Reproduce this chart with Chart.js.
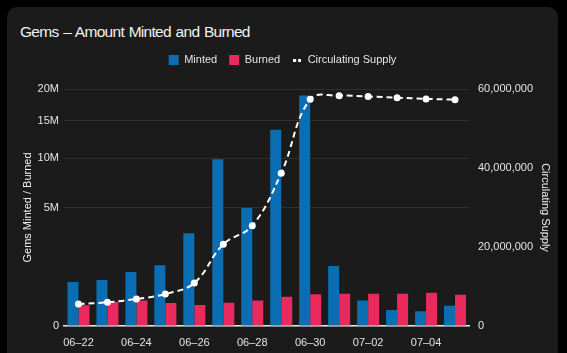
<!DOCTYPE html>
<html><head><meta charset="utf-8">
<script src="https://cdn.jsdelivr.net/npm/chart.js@4.4.1/dist/chart.umd.min.js"></script>
<style>
html,body{margin:0;padding:0;background:#000;width:567px;height:353px;overflow:hidden;}
#card{position:absolute;left:7px;top:7px;width:551px;height:370px;background:#1b1b1b;border-radius:10px;}
#title{position:absolute;left:20px;top:22.5px;font:15.5px "Liberation Sans",Arial,sans-serif;line-height:18px;letter-spacing:-0.7px;word-spacing:1px;color:#f2f2f2;white-space:nowrap;}
#wrap{position:absolute;left:0;top:0;width:567px;height:353px;}
</style></head><body>
<div id="card"></div>
<div id="title">Gems – Amount Minted and Burned</div>
<div id="wrap"><canvas id="c" width="567" height="353"></canvas></div>
<script>
const categories = ['06–22','06–23','06–24','06–25','06–26','06–27','06–28','06–29','06–30','07–01','07–02','07–03','07–04','07–05'];
const minted = [690000, 750000, 1040000, 1310000, 3060000, 9900000, 4950000, 13700000, 18900000, 1280000, 230000, 90000, 77000, 147000];
const burned = [152000, 210000, 230000, 190000, 157000, 194000, 230000, 306000, 358000, 372000, 372000, 370000, 395000, 350000];
const supply = [5570000, 6000000, 6840000, 8100000, 10900000, 20700000, 25400000, 38700000, 57400000, 58300000, 58100000, 57800000, 57500000, 57300000];
const leftTicks = [0, 5000000, 10000000, 15000000, 20000000];
const leftTickLabels = ['0', '5M', '10M', '15M', '20M'];
const rightTicks = [0, 20000000, 40000000, 60000000];

const FONT = '"Liberation Sans", Arial, sans-serif';
const TXT = '#e4e4e4';

class SqrtScale extends Chart.LinearScale {
  getPixelForValue(value) {
    if (value === null || value === undefined || isNaN(value)) return NaN;
    const a = Math.sqrt(Math.max(0, this.min)), b = Math.sqrt(this.max);
    return this.getPixelForDecimal((Math.sqrt(Math.max(0, value)) - a) / (b - a));
  }
  getValueForPixel(pixel) {
    const a = Math.sqrt(Math.max(0, this.min)), b = Math.sqrt(this.max);
    const s = a + this.getDecimalForPixel(pixel) * (b - a);
    return s * s;
  }
}
SqrtScale.id = 'sqrt';
SqrtScale.defaults = Chart.LinearScale.defaults;
Chart.register(SqrtScale);

const dashIcon = document.createElement('canvas');
dashIcon.width = 8; dashIcon.height = 3;
(function(){ const g = dashIcon.getContext('2d'); g.fillStyle = '#fff'; g.fillRect(0,0,3,3); g.fillRect(5,0,3,3); })();

const legendGap = {
  id: 'legendGap',
  beforeLayout(chart) {
    const lg = chart.legend;
    if (lg && !lg._gapPatched) {
      const f = lg.fit;
      lg.fit = function() { f.call(this); this.height += 13.5; };
      lg._gapPatched = true;
    }
  }
};

new Chart(document.getElementById('c'), {
  type: 'bar',
  data: {
    labels: categories,
    datasets: [
      { label: 'Minted', data: minted, backgroundColor: '#0b6eb3', yAxisID: 'y', order: 1,
        categoryPercentage: 0.76, barPercentage: 1.0 },
      { label: 'Burned', data: burned, backgroundColor: '#ea295c', yAxisID: 'y', order: 1,
        categoryPercentage: 0.76, barPercentage: 1.0 },
      { type: 'line', label: 'Circulating Supply', data: supply, yAxisID: 'y1', order: 0,
        borderColor: '#ffffff', backgroundColor: '#ffffff', borderWidth: 2, borderDash: [6, 4],
        pointRadius: 3.5, pointBackgroundColor: '#ffffff', pointBorderWidth: 0, tension: 0.4, fill: false }
    ]
  },
  plugins: [legendGap],
  options: {
    responsive: false,
    animation: false,
    layout: { padding: { left: 7, right: 9, top: 42.5, bottom: 0 } },
    plugins: {
      legend: {
        position: 'top',
        labels: {
          usePointStyle: true, boxWidth: 10, boxHeight: 10, padding: 12, color: TXT,
          font: { family: FONT, size: 11 },
          generateLabels(chart) {
            const items = Chart.defaults.plugins.legend.labels.generateLabels(chart);
            items.forEach(it => {
              if (it.datasetIndex === 2) { it.pointStyle = dashIcon; it.lineDash = []; }
              else { it.pointStyle = 'rect'; it.lineWidth = 0; it.strokeStyle = 'rgba(0,0,0,0)'; }
            });
            return items;
          },
          sort: (a, b) => a.datasetIndex - b.datasetIndex
        }
      },
      tooltip: { enabled: false }
    },
    scales: {
      x: {
        offset: true,
        grid: { display: false },
        border: { display: true, color: '#e8e8e8', width: 1.5 },
        ticks: {
          autoSkip: false, maxRotation: 0, minRotation: 0, padding: 2, color: TXT,
          font: { family: FONT, size: 11 },
          callback: (v, i) => (i % 2 === 0 ? categories[i] : '')
        },
        afterFit(s) { s.height = 27; }
      },
      y: {
        type: 'sqrt', position: 'left', min: 0, max: 20000000,
        afterBuildTicks(s) { s.ticks = leftTicks.map(v => ({ value: v })); },
        ticks: {
          padding: 5, color: TXT, font: { family: FONT, size: 11 },
          callback: (v) => { const i = leftTicks.indexOf(v); return i >= 0 ? leftTickLabels[i] : ''; }
        },
        grid: { color: '#2f2f2f', drawTicks: false, lineWidth: 1 },
        border: { display: false },
        title: { display: true, text: 'Gems Minted / Burned', color: '#f0f0f0',
          font: { family: FONT, size: 11 }, padding: { top: 14, bottom: 0 } },
        afterFit(s) { s.width = 57; }
      },
      y1: {
        type: 'linear', position: 'right', min: 0, max: 60000000,
        afterBuildTicks(s) { s.ticks = rightTicks.map(v => ({ value: v })); },
        ticks: {
          padding: 8.5, color: TXT, font: { family: FONT, size: 11 },
          callback: (v) => Number(v).toLocaleString('en-US')
        },
        grid: { display: false, drawTicks: false },
        border: { display: false },
        title: { display: true, text: 'Circulating Supply', color: '#f0f0f0',
          font: { family: FONT, size: 11 }, padding: { top: 6.7, bottom: 0 } },
        afterFit(s) { s.width = 88.5; }
      }
    }
  }
});
</script>
</body></html>
